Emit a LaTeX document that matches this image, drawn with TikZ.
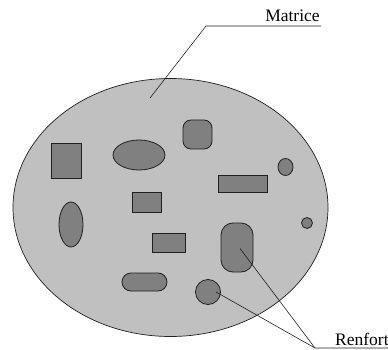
\documentclass[tikz,border=0pt]{standalone}
\usepackage{fontspec}
\setmainfont{Liberation Serif}
\usetikzlibrary{shapes.geometric}
\definecolor{matfill}{HTML}{C0C0C0}
\definecolor{renfill}{HTML}{808080}
\definecolor{edge}{HTML}{202020}

\begin{document}
\begin{tikzpicture}[x=1pt,y=-1pt,
 ren/.style={draw=edge,fill=renfill,line width=0.8pt,inner sep=0pt},
 lbl/.style={font=\fontsize{17.5}{20}\selectfont,inner sep=0pt},
 leader/.style={draw=edge,line width=0.6pt}]
 \useasboundingbox (0,0) rectangle (388,350);
 % matrix
 \node[ellipse,draw=edge,fill=matfill,line width=0.7pt,minimum width=315pt,
   minimum height=258pt,inner sep=0pt] (mat) at (170.5,207.5) {};
 % reinforcements
 \node[ren,minimum width=30pt,minimum height=35pt] (r1) at (66,160.5) {};
 \node[ren,ellipse,minimum width=52pt,minimum height=30pt] (e1) at (139,155) {};
 \node[ren,rounded corners=8pt,minimum size=29pt] (q1) at (197.5,134.5) {};
 \node[ren,ellipse,minimum width=15pt,minimum height=17pt] (e2) at (285.5,167) {};
 \node[ren,minimum width=49pt,minimum height=17pt] (r2) at (242.5,183.5) {};
 \node[ren,minimum width=29pt,minimum height=20pt] (r3) at (146.5,202) {};
 \node[ren,ellipse,minimum width=24pt,minimum height=45pt] (e3) at (71,224.5) {};
 \node[ren,circle,minimum size=11pt] (c1) at (307,223) {};
 \node[ren,minimum width=33pt,minimum height=19pt] (r4) at (168.5,242.5) {};
 \node[ren,rounded corners=12pt,minimum width=32pt,minimum height=49pt] (q2) at (237,247.5) {};
 \node[ren,rounded corners=9pt,minimum width=45pt,minimum height=18pt] (q3) at (144.5,282) {};
 \node[ren,circle,minimum size=25pt] (c2) at (208,292) {};
 % labels
 \node[lbl,anchor=base] (matlbl) at (292.5,22) {Matrice};
 \node[lbl,anchor=base west] (renlbl) at (335,345) {Renfort};
 \coordinate (mp) at (150,98);
 \coordinate (mu) at (206,26);
 \coordinate (me) at (321,26);
 \coordinate (ru) at (315,348);
 \coordinate (re) at (390,348);
 \draw[leader] (mp) -- (mu) -- (me);
 \draw[leader] ([shift={(3,1)}]q2.center) -- (ru) -- (re);
 \draw[leader] ([xshift=8pt]c2.center) -- (ru);
\end{tikzpicture}
\end{document}
